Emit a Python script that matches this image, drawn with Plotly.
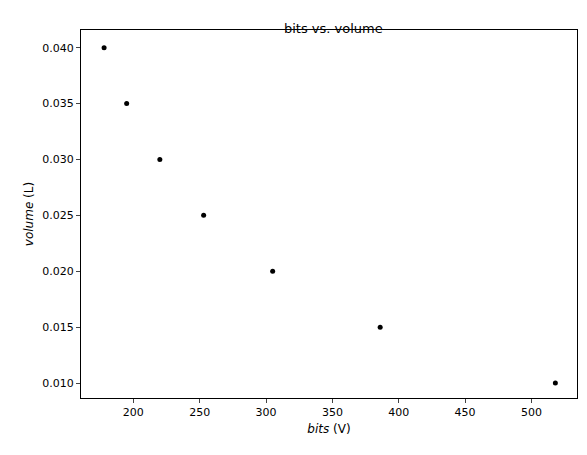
import plotly.graph_objects as go

bits = [178, 195, 220, 253, 305, 386, 518]
volume = [0.040, 0.035, 0.030, 0.025, 0.020, 0.015, 0.010]

fig = go.Figure(go.Scatter(x=bits, y=volume, mode="markers",
                           marker=dict(color="black", size=5)))
ax = dict(showline=True, linecolor="black", mirror=True, ticks="outside",
          ticklen=4, showgrid=False, zeroline=False, tickfont=dict(size=11, color="black"))
fig.update_xaxes(range=[160.6, 534.3], tickvals=[200,250,300,350,400,450,500],
                 title=dict(text="<i>bits</i> (V)", font=dict(size=12, color="black"), standoff=6), **ax)
fig.update_yaxes(range=[0.00866, 0.04158], tickformat=".3f",
                 tickvals=[0.010,0.015,0.020,0.025,0.030,0.035,0.040],
                 title=dict(text="<i>volume</i> (L)", font=dict(size=12, color="black"), standoff=6), **ax)
fig.update_layout(width=579, height=447, margin=dict(l=73, r=10, t=22, b=57),
                  plot_bgcolor="white", paper_bgcolor="white",
                  font=dict(family="DejaVu Sans", color="black"),
                  title=dict(text="bits vs. volume", x=0.562, xanchor="center", y=0.965,
                             font=dict(size=13, color="black")))
fig.write_html("out.html")
